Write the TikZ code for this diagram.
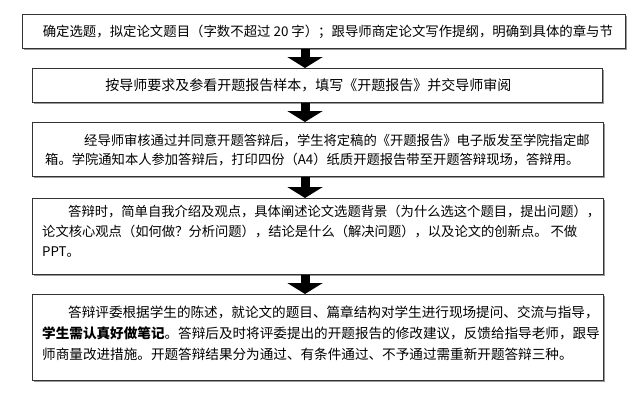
\documentclass[tikz,border=0pt]{standalone}
\usepackage{fontspec}
\newfontfamily\cjk{Noto Sans CJK SC}
\usetikzlibrary{arrows.meta,shadows,calc}
\begin{document}
\begin{tikzpicture}[x=1pt,y=-1pt,
  box/.style={draw=black!80, line width=0.8pt, fill=white, rectangle, inner sep=0pt, anchor=north west,
    drop shadow={shadow xshift=1.6pt, shadow yshift=-1.6pt, fill=black!40, opacity=1}},
  txt/.style={inner sep=0pt, align=left, anchor=north west},
  fsmall/.style={font=\cjk\fontsize{13.3}{19}\selectfont},
  flow/.style={line width=9pt, -{Triangle[width=35pt,length=11pt]}, black}]
\useasboundingbox[fill=white] (0,0) rectangle (639,405);
\coordinate (ax) at (305,0);
% boxes
\node[box, minimum width=603pt, minimum height=34pt] (b1) at (22,14) {};
\node[box, minimum width=570pt, minimum height=34pt] (b2) at (32,68) {};
\node[box, minimum width=571pt, minimum height=54pt] (b3) at (32,122) {};
\node[box, minimum width=571pt, minimum height=76pt] (b4) at (32,198) {};
\node[box, minimum width=571pt, minimum height=86pt] (b5) at (32,294) {};
% arrows
\draw[flow] (b1.south -| ax) -- (b2.north -| ax);
\draw[flow] (b2.south -| ax) -- (b3.north -| ax);
\draw[flow] (b3.south -| ax) -- (b4.north -| ax);
\draw[flow] (b4.south -| ax) -- (b5.north -| ax);
% texts
\node[inner sep=0pt, font=\cjk\fontsize{13.4}{16}\selectfont] (t1) at ($(b1.center)+(4,0)$)
  {确定选题，拟定论文题目（字数不超过 20 字）；跟导师商定论文写作提纲，明确到具体的章与节};
\node[inner sep=0pt, font=\cjk\fontsize{14}{16}\selectfont] (t2) at ($(b2.center)+(-9,0)$)
  {按导师要求及参看开题报告样本，填写《开题报告》并交导师审阅};
\node[txt, fsmall] (t3) at (45,134.5)
  {\hspace*{39pt}经导师审核通过并同意开题答辩后，学生将定稿的《开题报告》电子版发至学院指定邮\\
   箱。学院通知本人参加答辩后，打印四份（A4）纸质开题报告带至开题答辩现场，答辩用。};
\node[txt, font=\cjk\fontsize{13.3}{20}\selectfont] (t4) at (42,205)
  {\hspace*{26pt}答辩时，简单自我介绍及观点，具体阐述论文选题背景（为什么选这个题目，提出问题），\\
   论文核心观点（如何做？分析问题），结论是什么（解决问题），以及论文的创新点。 不做\\
   PPT。};
\node[txt, font=\cjk\fontsize{13.6}{21}\selectfont] (t5) at (42,306)
  {\hspace*{26pt}答辩评委根据学生的陈述，就论文的题目、篇章结构对学生进行现场提问、交流与指导，\\
   \textbf{学生需认真好做笔记}。答辩后及时将评委提出的开题报告的修改建议，反馈给指导老师，跟导\\
   师商量改进措施。开题答辩结果分为通过、有条件通过、不予通过需重新开题答辩三种。};
\end{tikzpicture}
\end{document}
